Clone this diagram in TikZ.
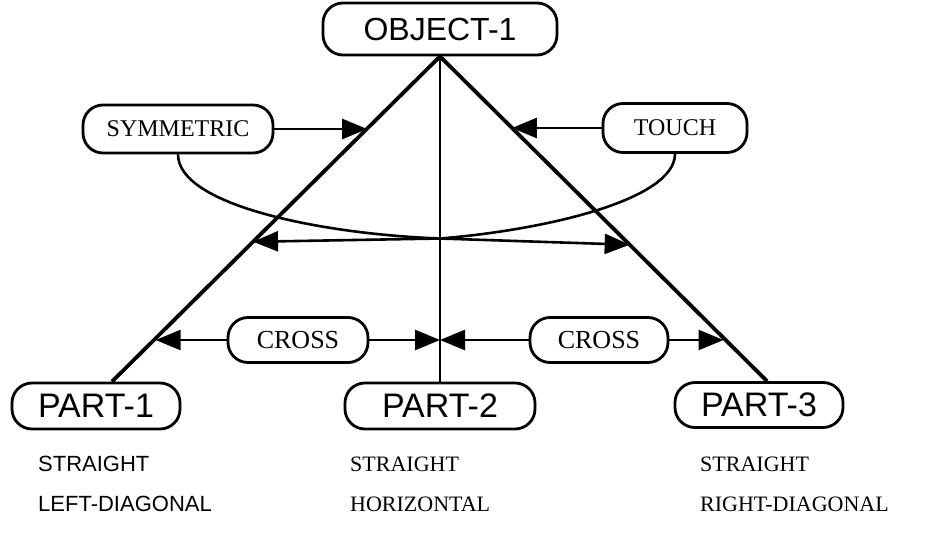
\documentclass[tikz,border=0pt]{standalone}
\usepackage{fontspec}
\setmainfont{Liberation Serif}
\setsansfont{Liberation Sans}
\usetikzlibrary{arrows.meta,calc}
\begin{document}
\begin{tikzpicture}[x=1pt,y=-1pt,
  box/.style={draw,line width=2.8pt,rounded corners=20pt,inner sep=0pt},
  bigbox/.style={box,font=\sffamily\fontsize{32}{32}\selectfont},
  relbox/.style={box,font=\rmfamily\fontsize{24}{24}\selectfont},
  main/.style={line width=3.8pt},
  conn/.style={line width=2.6pt,-{Triangle[length=25pt,width=20pt]}},
  lbl/.style={anchor=west,inner sep=0pt,font=\fontsize{22}{22}\selectfont}]
\useasboundingbox (0,0) rectangle (932,538);
\node[bigbox,minimum width=234pt,minimum height=52pt] (obj) at (440,29) {OBJECT-1};
\node[bigbox,minimum width=168pt,minimum height=46pt,font=\sffamily\fontsize{34}{34}\selectfont] (p1) at (96,406) {PART-1};
\node[bigbox,minimum width=190pt,minimum height=46pt,font=\sffamily\fontsize{34}{34}\selectfont] (p2) at (440,406) {PART-2};
\node[bigbox,minimum width=168pt,minimum height=45pt,font=\sffamily\fontsize{34}{34}\selectfont] (p3) at (759,405) {PART-3};
\node[relbox,minimum width=190pt,minimum height=48pt] (sym) at (178,129) {SYMMETRIC};
\node[relbox,minimum width=144pt,minimum height=49pt] (touch) at (675,128) {TOUCH};
\node[relbox,minimum width=140pt,minimum height=45pt,font=\rmfamily\fontsize{26}{26}\selectfont] (cl) at (298,340) {CROSS};
\node[relbox,minimum width=138pt,minimum height=45pt,font=\rmfamily\fontsize{26}{26}\selectfont] (cr) at (599,340) {CROSS};
% end points of the main lines
\coordinate (b1) at ($(p1.north)+(16,0)$);
\coordinate (b3) at ($(p3.north)+(8,0)$);
\draw[main] (obj.south) -- (b1);
\draw[main] (obj.south) -- (b3);
\draw[line width=2.6pt] (obj.south) -- (p2.north);
% targets on the lines
\coordinate (tS) at ($(obj.south)!0.222!(b1)$);
\coordinate (tT) at ($(obj.south)!0.22!(b3)$);
\coordinate (tL) at ($(obj.south)!0.57!(b1)$);
\coordinate (tR) at ($(obj.south)!0.58!(b3)$);
\coordinate (mid) at ($(obj.south)!0.56!(p2.north)$);
\coordinate (cL) at ($(obj.south)!0.867!(b1)$);
\coordinate (cM) at ($(obj.south)!0.86!(p2.north)$);
\coordinate (cR) at ($(obj.south)!0.867!(b3)$);
\draw[conn] (sym.east) -- (sym.east -| tS);
\draw[conn] (touch.west) -- (touch.west -| tT);
\draw[conn] (sym.south) .. controls (178,205) and (320,234) .. (mid) -- (tR);
\draw[conn] (touch.south) .. controls (675,200) and (545,230) .. (mid) -- (tL);
\draw[conn] (cl.west) -- (cl.west -| cL);
\draw[conn] (cl.east) -- (cl.east -| cM);
\draw[conn] (cr.west) -- (cr.west -| cM);
\draw[conn] (cr.east) -- (cr.east -| cR);
% bottom labels
\node[lbl,font=\sffamily\fontsize{22}{22}\selectfont] (s1) at (38,464) {STRAIGHT};
\node[lbl,font=\sffamily\fontsize{22}{22}\selectfont] (d1) at (38,504) {LEFT-DIAGONAL};
\node[lbl] (s2) at (350,464) {STRAIGHT};
\node[lbl] (d2) at (350,504) {HORIZONTAL};
\node[lbl] (s3) at (700,464) {STRAIGHT};
\node[lbl] (d3) at (700,504) {RIGHT-DIAGONAL};
\end{tikzpicture}
\end{document}
